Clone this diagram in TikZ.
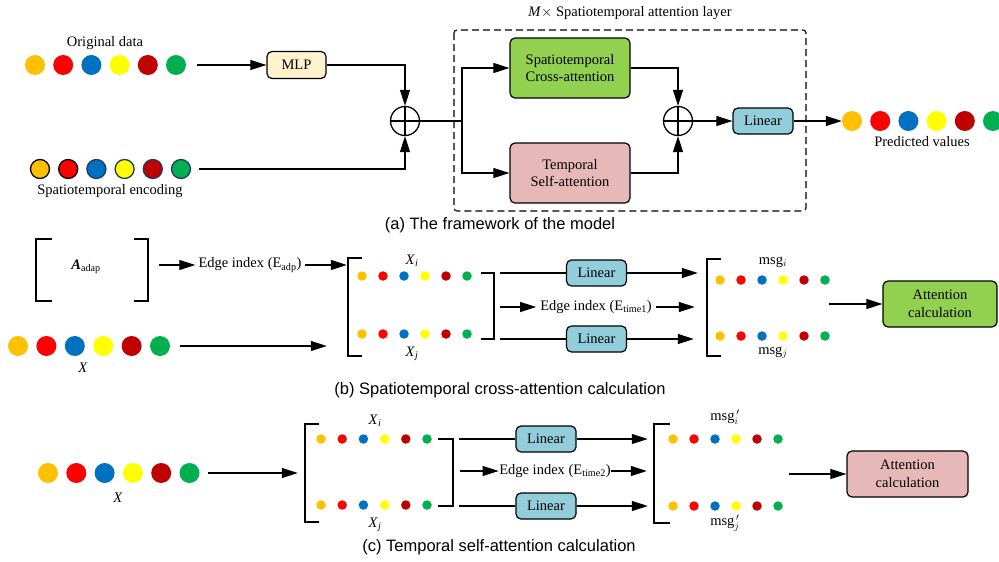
\documentclass[tikz,border=0pt]{standalone}
\usepackage{fontspec}
\setmainfont{Liberation Serif}
\newfontfamily\capfont{Liberation Sans}
\usetikzlibrary{arrows.meta}

\definecolor{dotOrange}{HTML}{FFC000}
\definecolor{dotRed}{HTML}{FF0000}
\definecolor{dotBlue}{HTML}{0070C0}
\definecolor{dotYellow}{HTML}{FFFF00}
\definecolor{dotDark}{HTML}{C00000}
\definecolor{dotGreen}{HTML}{00B050}
\definecolor{dotNavy}{HTML}{1F3864}
\definecolor{mlpFill}{HTML}{FFF2CC}
\definecolor{crossFill}{HTML}{92D050}
\definecolor{selfFill}{HTML}{E6B9B8}
\definecolor{linFill}{HTML}{92CDDC}

\def\dotcols{dotOrange,dotRed,dotBlue,dotYellow,dotDark,dotGreen}

\tikzset{
	arr/.style={line width=1.1pt, -{Triangle[length=16pt,width=10pt]}},
	ln/.style={line width=1.1pt},
	brk/.style={line width=1.6pt},
	bigdot/.style={circle, inner sep=0pt, minimum size=20pt},
	smalldot/.style={circle, inner sep=0pt, minimum size=9.5pt},
	box/.style={draw, line width=1.2pt, rounded corners=5pt, align=center, inner sep=2pt},
	linbox/.style={box, fill=linFill, minimum width=60pt, minimum height=26pt},
	addop/.style={circle, draw, line width=1.3pt, minimum size=29pt, inner sep=0pt,
		path picture={\draw[line width=1.3pt] (path picture bounding box.north) -- (path picture bounding box.south)
			(path picture bounding box.west) -- (path picture bounding box.east);}},
	lbl/.style={inner sep=1pt},
	captxt/.style={font=\capfont\fontsize{16.5}{20}\selectfont},
}

\begin{document}
\begin{tikzpicture}[x=1pt, y=-1pt, font=\fontsize{14.5}{17.5}\selectfont]
	\useasboundingbox (0,0) rectangle (999,562);

	% (a) framework
	\draw[line width=1.1pt, dash pattern=on 7pt off 4pt, rounded corners=3pt] (454,30) rectangle (806,211);
	\node[lbl] (ttl) at (630,13) {\textit{M}$\times$ Spatiotemporal attention layer};

	\node[lbl] (odlab) at (105,43) {Original data};
	\foreach \c [count=\k] in \dotcols
		\node[bigdot, fill=\c] (od\k) at ({35+28.2*(\k-1)},65) {};
	\foreach \c/\o [count=\k] in {dotOrange/black,dotRed/black,dotBlue/dotNavy,dotYellow/dotNavy,dotDark/dotNavy,dotGreen/dotNavy}
		\node[bigdot, fill=\c, draw=\o, line width=1.3pt, minimum size=19pt] (ed\k) at ({40+28.2*(\k-1)},169) {};
	\node[lbl] (edlab) at (110,191) {Spatiotemporal encoding};

	\node[box, fill=mlpFill, minimum width=59pt, minimum height=27pt] (mlp) at (296.5,65) {MLP};
	\node[addop] (add1) at (405,121) {};
	\coordinate (split) at (462,121);
	\node[box, fill=crossFill, minimum width=120pt, minimum height=60pt] (cross) at (570,68) {Spatiotemporal\\Cross-attention};
	\node[box, fill=selfFill, minimum width=120pt, minimum height=60pt] (self) at (570,173) {Temporal\\Self-attention};
	\node[addop] (add2) at (678,121) {};
	\node[linbox] (lin0) at (763,121) {Linear};
	\foreach \c [count=\k] in \dotcols
		\node[bigdot, fill=\c] (pd\k) at ({852+28.2*(\k-1)},121) {};
	\node[lbl] (pdlab) at (922,142) {Predicted values};

	\draw[arr, shorten <=11pt] (od6) -- (mlp);
	\draw[arr] (mlp) -| (add1);
	\draw[arr, shorten <=8pt] (ed6) -| (add1);
	\draw[ln] (add1) -- (split);
	\draw[arr] (split) |- (cross);
	\draw[arr] (split) |- (self);
	\draw[arr] (cross) -| (add2);
	\draw[arr] (self) -| (add2);
	\draw[arr] (add2) -- (lin0);
	\draw[arr] (lin0) -- (pd1);

	\node[captxt] (capa) at (500,225) {(a) The framework of the model};

	% (b) cross-attention
	\node[minimum width=112pt, minimum height=62pt, inner sep=0pt] (amat) at (92,270) {};
	\node[lbl] (alab) at (86,267) {\textbf{\textit{A}}\textsubscript{adap}};
	\draw[brk] ([xshift=16pt]amat.north west) -- (amat.north west) -- (amat.south west) -- ([xshift=16pt]amat.south west);
	\draw[brk] ([xshift=-14pt]amat.north east) -- (amat.north east) -- (amat.south east) -- ([xshift=-14pt]amat.south east);
	\node[lbl, inner sep=3pt] (eadp) at (250,265) {Edge index (E\textsubscript{adp})};

	\node[minimum width=146pt, minimum height=98pt, inner sep=0pt] (xb) at (421,307) {};
	\draw[brk] ([xshift=14pt]xb.north west) -- (xb.north west) -- (xb.south west) -- ([xshift=14pt]xb.south west);
	\draw[brk] ([xshift=-13pt,yshift=34pt]xb.east) -- ([yshift=34pt]xb.east) -- ([yshift=-32pt]xb.east) -- ([xshift=-13pt,yshift=-32pt]xb.east);
	\node[lbl] (xbi) at (412,261) {\textit{X}\textsubscript{\textit{i}}};
	\node[lbl] (xbj) at (412,354) {\textit{X}\textsubscript{\textit{j}}};
	\foreach \c [count=\k] in \dotcols {
		\node[smalldot, fill=\c] (bi\k) at ({362+21*(\k-1)},276) {};
		\node[smalldot, fill=\c] (bj\k) at ({362+21*(\k-1)},334) {};
	}
	\foreach \c [count=\k] in \dotcols
		\node[bigdot, fill=\c] (xd\k) at ({18+28.4*(\k-1)},346) {};
	\node[lbl] (xdlab) at (83,368) {\textit{X}};

	\node[linbox] (lin1) at (596.5,273) {Linear};
	\node[linbox] (lin2) at (596.5,339) {Linear};
	\node[lbl, inner sep=4pt] (et1) at (596,307) {Edge index (E\textsubscript{time1})};
	\node[minimum width=122pt, minimum height=97pt, inner sep=0pt] (mb) at (768,307.5) {};
	\draw[brk] ([xshift=14pt]mb.north west) -- (mb.north west) -- (mb.south west) -- ([xshift=14pt]mb.south west);
	\node[lbl] (mbi) at (773,262) {msg$_{i}$};
	\node[lbl] (mbj) at (773,353) {msg$_{j}$};
	\foreach \c [count=\k] in \dotcols {
		\node[smalldot, fill=\c] (mi\k) at ({720+21*(\k-1)},280) {};
		\node[smalldot, fill=\c] (mj\k) at ({720+21*(\k-1)},336) {};
	}
	\node[box, fill=crossFill, minimum width=114pt, minimum height=46pt] (att1) at (940,304) {Attention\\calculation};

	\draw[arr, shorten <=11pt] (amat.east |- eadp) -- (eadp);
	\draw[arr, shorten >=1pt] (eadp) -- (xb.west |- eadp);
	\draw[arr, shorten <=10pt, shorten >=21pt] (xd6) -- (xb.west |- xd6);
	\draw[ln] ([xshift=6pt,yshift=34pt]xb.east) -- (lin1);
	\draw[ln] ([xshift=6pt,yshift=-32pt]xb.east) -- (lin2);
	\draw[arr] ([xshift=6pt]xb.east) -- (et1);
	\draw[arr, shorten >=9pt] (lin1) -- (mb.west |- lin1);
	\draw[arr, shorten >=12pt] (et1) -- (mb.west |- et1);
	\draw[arr, shorten >=13pt] (lin2) -- (mb.west |- lin2);
	\draw[arr] (mb.east |- att1) -- (att1);

	\node[captxt] (capb) at (500,390) {(b) Spatiotemporal cross-attention calculation};

	% (c) self-attention
	\foreach \c [count=\k] in \dotcols
		\node[bigdot, fill=\c] (xc\k) at ({48+28.3*(\k-1)},473) {};
	\node[lbl] (xclab) at (118,498) {\textit{X}};
	\node[minimum width=148pt, minimum height=98pt, inner sep=0pt] (xcb) at (379,473) {};
	\draw[brk] ([xshift=14pt]xcb.north west) -- (xcb.north west) -- (xcb.south west) -- ([xshift=14pt]xcb.south west);
	\draw[brk] ([xshift=-15pt,yshift=34pt]xcb.east) -- ([yshift=34pt]xcb.east) -- ([yshift=-33pt]xcb.east) -- ([xshift=-15pt,yshift=-33pt]xcb.east);
	\node[lbl] (xci) at (375,421) {\textit{X}\textsubscript{\textit{i}}};
	\node[lbl] (xcj) at (375,525) {\textit{X}\textsubscript{\textit{j}}};
	\foreach \c [count=\k] in \dotcols {
		\node[smalldot, fill=\c] (ci\k) at ({321+21.2*(\k-1)},439) {};
		\node[smalldot, fill=\c] (cj\k) at ({321+21.2*(\k-1)},505) {};
	}

	\node[linbox] (lin3) at (546,439) {Linear};
	\node[linbox] (lin4) at (546,506) {Linear};
	\node[lbl, inner sep=0.5pt] (et2) at (555,471) {Edge index (E\textsubscript{time2})};
	\node[minimum width=135pt, minimum height=99pt, inner sep=0pt] (mc) at (721.5,473.5) {};
	\draw[brk] ([xshift=16pt]mc.north west) -- (mc.north west) -- (mc.south west) -- ([xshift=16pt]mc.south west);
	\node[lbl] (mci) at (725,417) {msg$_{i}^{\,\prime}$};
	\node[lbl] (mcj) at (725,523) {msg$_{j}^{\,\prime}$};
	\foreach \c [count=\k] in \dotcols {
		\node[smalldot, fill=\c] (ni\k) at ({673+21*(\k-1)},439) {};
		\node[smalldot, fill=\c] (nj\k) at ({673+21*(\k-1)},506) {};
	}
	\node[box, fill=selfFill, minimum width=121pt, minimum height=46pt] (att2) at (907.5,474) {Attention\\calculation};

	\draw[arr, shorten <=8pt, shorten >=7pt] (xc6) -- (xcb.west |- xc6);
	\draw[ln] ([xshift=6pt,yshift=34pt]xcb.east) -- (lin3);
	\draw[ln] ([xshift=6pt,yshift=-33pt]xcb.east) -- (lin4);
	\draw[arr] ([xshift=7pt]xcb.east |- et2) -- (et2);
	\draw[arr, shorten >=6pt] (lin3) -- (mc.west |- lin3);
	\draw[arr, shorten >=7pt] (et2) -- (mc.west |- et2);
	\draw[arr, shorten >=6pt] (lin4) -- (mc.west |- lin4);
	\draw[arr] (mc.east |- att2) -- (att2);

	\node[captxt] (capc) at (499,547) {(c) Temporal self-attention calculation};
\end{tikzpicture}
\end{document}
